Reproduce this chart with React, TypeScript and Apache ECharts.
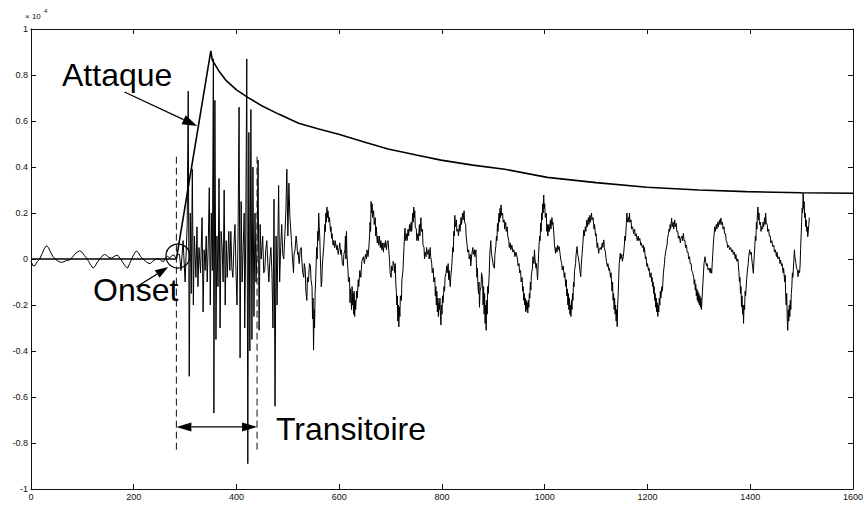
import React, { useEffect, useRef } from "react";
import * as echarts from "echarts";

// Axis ticks (signal amplitude is shown in units of 10^4)
const xTicks = [0, 200, 400, 600, 800, 1000, 1200, 1400, 1600];
const yTicks = [-1, -0.8, -0.6, -0.4, -0.2, 0, 0.2, 0.4, 0.6, 0.8, 1];

// Audio signal: [sample index, amplitude]
const signal: [number, number][] = [
  // before the onset
  [0, -0.01], [4, -0.03], [8, -0.028], [12, -0.012], [17, 0.0], [22, 0.025], [26, 0.045], [30, 0.058],
  [34, 0.05], [38, 0.03], [43, 0.01], [48, -0.002], [53, -0.01], [59, -0.015], [64, -0.012], [70, -0.006],
  [75, -0.004], [80, 0.006], [85, 0.02], [90, 0.03], [95, 0.036], [100, 0.028], [104, 0.015], [108, 0.005],
  [112, -0.01], [116, -0.025], [121, -0.04], [125, -0.03], [129, -0.014], [134, 0.0], [138, 0.012], [143, 0.02],
  [147, 0.016], [151, 0.008], [156, 0.003], [160, 0.008], [164, 0.014], [169, 0.016], [173, 0.004], [178, -0.012],
  [183, -0.03], [188, -0.04], [192, -0.02], [196, 0.0], [200, 0.02], [205, 0.035], [209, 0.028], [213, 0.012],
  [218, 0.0], [223, -0.01], [228, -0.018], [232, -0.02], [236, -0.012], [240, -0.005], [245, 0.002], [250, 0.0],
  [254, -0.008], [258, -0.012], [262, 0.006], [266, 0.012], [270, 0.004], [274, 0.014], [278, 0.018], [282, 0.004],
  [285, 0.02],
  // attack / transient
  [289, 0.02], [292, -0.05], [296, 0.08], [300, -0.1], [304, 0.15], [306, 0.73], [308, -0.51], [310, 0.2],
  [312, -0.15], [314, 0.39], [316, -0.2], [318, 0.1], [321, -0.08], [323, 0.14], [325, -0.12], [327, 0.05],
  [330, -0.06], [333, 0.18], [335, -0.23], [337, 0.04], [339, -0.05], [341, 0.1], [343, -0.1], [345, 0.06],
  [347, 0.31], [349, -0.2], [351, 0.2], [353, -0.05], [355, 0.87], [356, -0.67], [358, 0.69], [360, -0.35],
  [362, 0.1], [364, -0.12], [366, 0.35], [368, -0.3], [370, 0.12], [372, 0.05], [374, -0.1], [376, 0.3],
  [378, -0.2], [380, 0.08], [382, -0.08], [385, 0.12], [387, -0.05], [389, 0.12], [391, -0.04], [393, -0.08],
  [395, 0.06], [397, 0.15], [399, -0.05], [401, -0.2], [403, 0.1], [405, 0.66], [407, -0.43], [409, 0.25],
  [411, -0.1], [413, 0.05], [415, 0.2], [416, -0.3], [418, 0.1], [420, 0.87], [422, -0.89], [424, 0.55],
  [426, -0.4], [428, 0.65], [430, -0.35], [432, 0.4], [434, -0.25], [436, 0.2], [438, -0.1], [440, 0.05],
  [442, 0.43], [444, -0.31], [446, 0.15], [448, 0.0], [451, 0.1], [453, -0.06], [455, -0.05], [457, 0.04],
  [459, 0.08], [461, -0.02], [463, -0.1], [465, 0.0], [467, 0.05], [469, -0.06], [471, -0.3], [473, 0.26],
  [475, -0.64], [477, 0.1], [479, -0.2], [482, 0.32], [484, -0.1], [486, 0.05], [488, 0.15], [490, 0.02],
  [492, 0.0], [494, 0.1], [496, 0.2], [498, 0.39], [500, 0.1], [502, 0.33], [504, 0.18],
  // sustained part
  [507, 0.08], [509, 0.0], [511, -0.06], [512, 0.02], [514, 0.04], [516, 0.1], [517, 0.083], [519, 0.02],
  [520, 0.03], [522, -0.02], [524, 0.04], [526, 0.05], [527, 0.0], [529, -0.06], [531, -0.08], [532, -0.02],
  [534, -0.05], [535, -0.14], [537, -0.18], [538, -0.08], [540, -0.1], [542, -0.02], [544, -0.03], [545, -0.09],
  [547, -0.12], [548, -0.26], [549, -0.17], [550, -0.396], [551, -0.22], [552, -0.3], [553, -0.15], [554, -0.1],
  [556, 0.05], [557, 0.0], [558, 0.12], [559, 0.08], [560, 0.2], [561, 0.14], [562, 0.1], [563, 0.02],
  [564, -0.05], [565, -0.12], [566, -0.1], [567, -0.03], [568, 0.0], [570, 0.06], [571, 0.1], [572, 0.15],
  [573, 0.12], [574, 0.2], [575, 0.16], [576, 0.226], [577, 0.18], [578, 0.21], [580, 0.16], [581, 0.18],
  [583, 0.12], [584, 0.14], [585, 0.09], [586, 0.11], [588, 0.06], [589, 0.08], [591, 0.05], [592, 0.08],
  [595, 0.04], [596, 0.06], [598, 0.02], [600, 0.05], [601, 0.07], [603, 0.02], [604, 0.04], [606, -0.02],
  [608, -0.03], [609, 0.02], [611, 0.04], [612, 0.1], [613, 0.0], [614, 0.12], [615, 0.02], [617, -0.05],
  [618, -0.1], [620, -0.08], [621, -0.19], [622, -0.13], [624, -0.22], [625, -0.12], [626, -0.2], [627, -0.15],
  [628, -0.24], [629, -0.14], [630, -0.25], [631, -0.18], [632, -0.22], [634, -0.14], [635, -0.17], [637, -0.09],
  [638, -0.12], [640, -0.05], [642, -0.08], [644, -0.01], [647, 0.01], [649, -0.02], [651, 0.02], [653, 0.0],
  [654, 0.04], [656, 0.01], [657, 0.03], [659, 0.1], [660, 0.16], [661, 0.12], [662, 0.25], [663, 0.2],
  [664, 0.24], [665, 0.18], [667, 0.21], [668, 0.15], [670, 0.18], [671, 0.1], [672, 0.14], [674, 0.07],
  [675, 0.1], [677, 0.06], [678, 0.1], [680, 0.05], [681, 0.08], [683, 0.04], [684, 0.07], [686, 0.03],
  [687, 0.07], [689, 0.05], [690, 0.08], [692, 0.04], [693, 0.07], [695, 0.08], [697, 0.02], [698, -0.01],
  [699, -0.06], [701, -0.08], [702, -0.03], [704, -0.05], [705, -0.01], [707, -0.03], [708, -0.06], [709, -0.02],
  [710, -0.1], [711, -0.14], [712, -0.2], [713, -0.16], [714, -0.27], [715, -0.2], [716, -0.295], [717, -0.21],
  [718, -0.25], [719, -0.16], [721, -0.18], [722, -0.09], [724, -0.05], [725, 0.0], [726, 0.05], [727, 0.1],
  [728, 0.134], [729, 0.08], [731, 0.11], [732, 0.08], [734, 0.13], [735, 0.1], [737, 0.15], [738, 0.12],
  [740, 0.16], [741, 0.12], [743, 0.2], [744, 0.16], [745, 0.226], [746, 0.18], [747, 0.21], [748, 0.14],
  [750, 0.13], [751, 0.08], [753, 0.11], [754, 0.08], [756, 0.15], [757, 0.1], [759, 0.18], [760, 0.12],
  [762, 0.13], [763, 0.06], [765, 0.05], [766, 0.0], [767, 0.03], [769, 0.01], [770, 0.05], [772, 0.02],
  [774, 0.04], [775, 0.0], [777, 0.05], [778, 0.01], [780, -0.02], [781, -0.06], [783, -0.04], [784, -0.1],
  [786, -0.08], [787, -0.16], [788, -0.12], [789, -0.2], [790, -0.14], [791, -0.23], [792, -0.17], [793, -0.25],
  [794, -0.19], [795, -0.22], [796, -0.17], [797, -0.25], [798, -0.287], [799, -0.2], [800, -0.24], [801, -0.16],
  [802, -0.19], [804, -0.12], [805, -0.14], [806, -0.08], [808, -0.06], [809, -0.03], [810, -0.06], [812, -0.02],
  [813, -0.09], [814, -0.05], [816, -0.12], [817, -0.08], [819, -0.03], [821, 0.05], [822, 0.03], [823, 0.12],
  [824, 0.1], [825, 0.19], [826, 0.14], [828, 0.17], [829, 0.12], [831, 0.13], [832, 0.1], [834, 0.15],
  [835, 0.12], [837, 0.18], [838, 0.15], [840, 0.2], [841, 0.17], [843, 0.21], [844, 0.16], [846, 0.15],
  [847, 0.1], [849, 0.06], [850, 0.03], [852, 0.04], [853, 0.0], [855, 0.02], [856, -0.03], [858, 0.02],
  [860, 0.05], [861, 0.02], [863, 0.04], [864, 0.01], [866, 0.04], [867, -0.02], [868, -0.08], [869, -0.04],
  [870, -0.12], [871, -0.15], [872, -0.1], [873, -0.21], [874, -0.14], [876, -0.12], [877, -0.06], [879, -0.09],
  [880, -0.2], [881, -0.12], [882, -0.24], [883, -0.15], [884, -0.28], [885, -0.2], [886, -0.31], [887, -0.18],
  [888, -0.24], [889, -0.12], [890, -0.15], [892, -0.06], [893, 0.02], [895, 0.08], [896, 0.03], [898, 0.0],
  [900, -0.03], [902, -0.04], [903, 0.02], [905, 0.06], [906, 0.1], [907, 0.08], [908, 0.155], [909, 0.12],
  [911, 0.2], [912, 0.16], [913, 0.22], [914, 0.18], [915, 0.235], [916, 0.19], [918, 0.2], [919, 0.16],
  [921, 0.17], [922, 0.13], [924, 0.16], [925, 0.12], [927, 0.14], [928, 0.1], [930, 0.08], [931, 0.05],
  [933, 0.07], [934, 0.04], [936, 0.06], [938, 0.03], [940, 0.04], [942, 0.01], [944, 0.03], [947, 0.0],
  [948, -0.03], [950, -0.02], [951, -0.06], [953, -0.05], [954, -0.1], [956, -0.08], [957, -0.14], [958, -0.12],
  [959, -0.18], [960, -0.15], [961, -0.2], [962, -0.17], [963, -0.23], [964, -0.18], [965, -0.22], [966, -0.19],
  [967, -0.235], [968, -0.18], [969, -0.21], [970, -0.15], [971, -0.17], [972, -0.1], [973, -0.135], [974, -0.07],
  [976, -0.04], [977, 0.01], [979, -0.02], [980, 0.04], [981, 0.0], [983, -0.04], [984, -0.02], [986, -0.09],
  [987, -0.04], [988, 0.02], [989, 0.06], [990, 0.1], [991, 0.08], [992, 0.155], [993, 0.12], [994, 0.2],
  [995, 0.17], [996, 0.24], [997, 0.2], [998, 0.278], [999, 0.22], [1000, 0.24], [1001, 0.18], [1003, 0.2],
  [1004, 0.12], [1005, 0.15], [1006, 0.1], [1008, 0.15], [1009, 0.12], [1011, 0.17], [1012, 0.13], [1014, 0.18],
  [1015, 0.15], [1016, 0.16], [1018, 0.1], [1019, 0.06], [1021, 0.025], [1022, 0.05], [1024, 0.03], [1025, 0.06],
  [1027, 0.04], [1028, 0.054], [1030, 0.02], [1031, 0.0], [1033, -0.02], [1034, -0.048], [1036, -0.03], [1038, -0.08],
  [1039, -0.06], [1041, -0.12], [1042, -0.09], [1043, -0.16], [1044, -0.13], [1045, -0.2], [1046, -0.15], [1047, -0.22],
  [1048, -0.17], [1049, -0.24], [1050, -0.2], [1051, -0.25], [1052, -0.18], [1053, -0.22], [1054, -0.15], [1055, -0.18],
  [1056, -0.1], [1057, -0.12], [1058, -0.05], [1060, -0.02], [1061, 0.02], [1063, 0.054], [1064, 0.02], [1066, 0.0],
  [1068, -0.04], [1070, -0.077], [1071, -0.03], [1073, 0.03], [1074, 0.06], [1076, 0.126], [1077, 0.1], [1079, 0.14],
  [1080, 0.12], [1082, 0.17], [1083, 0.14], [1085, 0.18], [1086, 0.15], [1088, 0.19], [1089, 0.16], [1091, 0.2],
  [1092, 0.17], [1094, 0.18], [1096, 0.13], [1097, 0.15], [1099, 0.1], [1100, 0.11], [1102, 0.05], [1103, 0.07],
  [1105, 0.025], [1106, 0.04], [1108, 0.05], [1110, 0.04], [1112, 0.07], [1113, 0.05], [1115, 0.083], [1116, 0.05],
  [1118, 0.03], [1120, -0.01], [1122, -0.033], [1123, -0.02], [1125, -0.05], [1126, -0.04], [1128, -0.08], [1129, -0.06],
  [1131, -0.14], [1132, -0.1], [1133, -0.18], [1134, -0.15], [1135, -0.22], [1136, -0.17], [1137, -0.24], [1138, -0.2],
  [1139, -0.27], [1140, -0.22], [1141, -0.294], [1142, -0.2], [1143, -0.15], [1144, -0.08], [1145, -0.02], [1147, 0.025],
  [1148, 0.0], [1150, 0.02], [1151, -0.01], [1153, 0.01], [1155, 0.06], [1156, 0.1], [1157, 0.08], [1159, 0.16],
  [1160, 0.2], [1161, 0.16], [1163, 0.18], [1164, 0.16], [1165, 0.2], [1166, 0.16], [1168, 0.17], [1169, 0.13],
  [1171, 0.14], [1173, 0.11], [1175, 0.13], [1176, 0.1], [1178, 0.11], [1180, 0.08], [1182, 0.1], [1183, 0.08],
  [1185, 0.09], [1187, 0.06], [1188, 0.07], [1190, 0.05], [1192, 0.06], [1193, 0.03], [1194, 0.05], [1196, 0.0],
  [1197, 0.01], [1199, -0.033], [1200, -0.02], [1202, -0.05], [1203, -0.04], [1205, -0.08], [1207, -0.06], [1208, -0.1],
  [1209, -0.08], [1210, -0.12], [1211, -0.1], [1212, -0.15], [1213, -0.12], [1214, -0.18], [1215, -0.15], [1216, -0.21],
  [1217, -0.17], [1218, -0.23], [1219, -0.19], [1220, -0.25], [1221, -0.2], [1222, -0.23], [1223, -0.17], [1224, -0.2],
  [1225, -0.14], [1226, -0.17], [1228, -0.12], [1229, -0.14], [1231, -0.06], [1233, -0.02], [1234, 0.01], [1236, 0.04],
  [1238, 0.06], [1239, 0.09], [1241, 0.112], [1242, 0.13], [1243, 0.12], [1244, 0.15], [1245, 0.13], [1247, 0.178],
  [1248, 0.14], [1250, 0.16], [1251, 0.13], [1253, 0.17], [1254, 0.14], [1256, 0.155], [1257, 0.12], [1259, 0.12],
  [1260, 0.09], [1262, 0.1], [1264, 0.07], [1265, 0.09], [1267, 0.1], [1268, 0.08], [1270, 0.112], [1271, 0.08],
  [1273, 0.08], [1274, 0.05], [1276, 0.06], [1277, 0.03], [1279, 0.03], [1280, 0.0], [1282, 0.01], [1283, -0.02],
  [1285, -0.02], [1286, -0.05], [1288, -0.06], [1290, -0.08], [1291, -0.11], [1292, -0.09], [1293, -0.135], [1294, -0.11],
  [1295, -0.16], [1296, -0.13], [1297, -0.18], [1298, -0.14], [1299, -0.19], [1300, -0.15], [1301, -0.2], [1302, -0.16],
  [1303, -0.21], [1304, -0.17], [1305, -0.22], [1306, -0.18], [1307, -0.14], [1308, -0.1], [1309, -0.06], [1310, -0.02],
  [1312, 0.01], [1313, -0.01], [1315, -0.03], [1316, -0.02], [1318, -0.048], [1320, -0.04], [1322, -0.06], [1323, -0.04],
  [1325, -0.062], [1326, -0.02], [1327, 0.02], [1328, 0.06], [1329, 0.09], [1331, 0.14], [1332, 0.12], [1334, 0.15],
  [1335, 0.13], [1337, 0.16], [1338, 0.14], [1340, 0.17], [1341, 0.15], [1343, 0.178], [1344, 0.15], [1346, 0.16],
  [1347, 0.13], [1349, 0.14], [1350, 0.11], [1352, 0.11], [1353, 0.08], [1355, 0.07], [1356, 0.05], [1358, 0.06],
  [1360, 0.04], [1362, 0.05], [1364, 0.03], [1366, 0.04], [1367, 0.02], [1369, 0.03], [1371, 0.0], [1372, 0.02],
  [1374, -0.01], [1376, 0.0], [1377, -0.03], [1378, -0.06], [1379, -0.1], [1380, -0.08], [1381, -0.15], [1382, -0.12],
  [1383, -0.207], [1384, -0.16], [1385, -0.24], [1386, -0.2], [1387, -0.28], [1388, -0.2], [1389, -0.22], [1390, -0.14],
  [1391, -0.16], [1393, -0.09], [1394, -0.06], [1396, -0.02], [1397, 0.01], [1399, 0.04], [1400, 0.02], [1402, 0.03],
  [1403, 0.0], [1405, -0.04], [1406, -0.062], [1407, -0.02], [1408, 0.02], [1409, 0.06], [1410, 0.1], [1411, 0.08],
  [1412, 0.16], [1413, 0.13], [1414, 0.2], [1415, 0.226], [1416, 0.17], [1417, 0.2], [1418, 0.15], [1420, 0.16],
  [1421, 0.12], [1422, 0.14], [1424, 0.13], [1425, 0.16], [1426, 0.14], [1428, 0.18], [1429, 0.15], [1430, 0.2],
  [1431, 0.16], [1433, 0.15], [1434, 0.12], [1436, 0.13], [1437, 0.1], [1439, 0.1], [1440, 0.07], [1442, 0.08],
  [1444, 0.054], [1446, 0.06], [1447, 0.03], [1449, 0.04], [1451, 0.01], [1452, 0.03], [1454, 0.0], [1456, 0.01],
  [1458, -0.02], [1459, -0.005], [1461, -0.03], [1462, -0.02], [1464, -0.06], [1465, -0.04], [1467, -0.1], [1468, -0.07],
  [1469, -0.16], [1470, -0.2], [1471, -0.15], [1472, -0.26], [1473, -0.31], [1474, -0.22], [1475, -0.27], [1476, -0.2],
  [1477, -0.25], [1478, -0.18], [1479, -0.22], [1480, -0.15], [1481, -0.12], [1482, -0.06], [1483, -0.08], [1485, 0.0],
  [1486, 0.04], [1487, 0.01], [1489, -0.02], [1490, -0.04], [1492, -0.05], [1493, -0.077], [1494, -0.05], [1496, -0.06],
  [1497, -0.03], [1498, 0.04], [1499, 0.1], [1500, 0.16], [1501, 0.22], [1502, 0.2], [1503, 0.287], [1504, 0.22],
  [1505, 0.25], [1506, 0.18], [1507, 0.2], [1508, 0.14], [1509, 0.17], [1510, 0.12], [1511, 0.14], [1512, 0.097],
  [1513, 0.12], [1514, 0.15], [1515, 0.18],
];

// Amplitude envelope: flat before the onset, linear attack, then decay
const envelope: [number, number][] = [
  [0, 0], [283, 0], [350, 0.905], [353, 0.865], [365, 0.82], [379, 0.778], [400, 0.735], [422, 0.703],
  [450, 0.665], [482, 0.63], [521, 0.59], [560, 0.565], [599, 0.542], [650, 0.508], [695, 0.478], [750, 0.452],
  [798, 0.43], [860, 0.408], [922, 0.39], [1005, 0.355], [1100, 0.332], [1199, 0.312], [1300, 0.3], [1393, 0.293],
  [1500, 0.288], [1600, 0.286],
];

// Segment boundaries (samples) and annotation anchors (data units)
const onsetSample = 283;
const transientEnd = 440;
const boundaryTop = 0.445;
const boundaryBottom = -0.843;
const onsetCircle: [number, number] = [286, 0.013];
const attackArrow: [[number, number], [number, number]] = [[182, 0.726], [323.5, 0.578]];
const onsetArrow: [[number, number], [number, number]] = [[205, -0.122], [267, -0.035]];
const transientArrowY = -0.73;

const FONT = "'Liberation Sans', Arial, Helvetica, sans-serif";
const INK = "#111";

function fmtY(v: number): string {
  const r = Math.round(v * 10) / 10;
  const found = yTicks.find((t) => Math.abs(t - r) < 1e-9);
  return String(found === undefined ? r : found);
}

function fmtX(v: number): string {
  const found = xTicks.find((t) => Math.abs(t - v) < 1e-6);
  return String(found === undefined ? Math.round(v) : found);
}

export default function App() {
  const ref = useRef<HTMLDivElement>(null);

  useEffect(() => {
    if (!ref.current) return;
    document.body.style.margin = "0";
    const chart = echarts.init(ref.current, undefined, { renderer: "svg" });

    const axisCommon = {
      type: "value" as const,
      axisLine: { show: true, onZero: false, lineStyle: { color: INK, width: 1 } },
      axisTick: { show: true, inside: true, length: 5, lineStyle: { color: INK, width: 1 } },
      splitLine: { show: false },
    };

    chart.setOption({
      animation: false,
      backgroundColor: "#fff",
      grid: { left: 31, right: 9, top: 29, bottom: 16, containLabel: false },
      xAxis: [
        {
          ...axisCommon,
          position: "bottom",
          min: xTicks[0],
          max: xTicks[xTicks.length - 1],
          interval: xTicks[1] - xTicks[0],
          axisLabel: { show: true, fontSize: 9, color: INK, fontFamily: FONT, margin: 3, formatter: fmtX },
        },
        {
          ...axisCommon,
          position: "top",
          min: xTicks[0],
          max: xTicks[xTicks.length - 1],
          interval: xTicks[1] - xTicks[0],
          axisLabel: { show: false },
        },
      ],
      yAxis: [
        {
          ...axisCommon,
          position: "left",
          min: yTicks[0],
          max: yTicks[yTicks.length - 1],
          interval: 0.2,
          axisLabel: { show: true, fontSize: 9, color: INK, fontFamily: FONT, margin: 3, formatter: fmtY },
        },
        {
          ...axisCommon,
          position: "right",
          min: yTicks[0],
          max: yTicks[yTicks.length - 1],
          interval: 0.2,
          axisLabel: { show: false },
        },
      ],
      series: [
        {
          type: "line",
          name: "signal",
          data: signal,
          xAxisIndex: 0,
          yAxisIndex: 0,
          showSymbol: false,
          symbol: "none",
          lineStyle: { color: "#000", width: 1 },
          silent: true,
        },
        {
          type: "line",
          name: "envelope",
          data: envelope,
          xAxisIndex: 0,
          yAxisIndex: 0,
          showSymbol: false,
          symbol: "none",
          lineStyle: { color: "#000", width: 1.6 },
          silent: true,
          z: 3,
        },
      ],
    });

    const P = (p: [number, number]) =>
      chart.convertToPixel({ xAxisIndex: 0, yAxisIndex: 0 }, p) as number[];

    const arrowHead = (tail: number[], tip: number[], len: number, half: number) => {
      const dx = tip[0] - tail[0];
      const dy = tip[1] - tail[1];
      const d = Math.hypot(dx, dy) || 1;
      const ux = dx / d;
      const uy = dy / d;
      const bx = tip[0] - ux * len;
      const by = tip[1] - uy * len;
      return {
        base: [bx, by],
        points: [
          [tip[0], tip[1]],
          [bx - uy * half, by + ux * half],
          [bx + uy * half, by - ux * half],
        ],
      };
    };

    const elements: any[] = [];

    // dashed boundaries of the transient segment
    [onsetSample, transientEnd].forEach((s) => {
      const a = P([s, boundaryTop]);
      const b = P([s, boundaryBottom]);
      elements.push({
        type: "line",
        shape: { x1: a[0], y1: a[1], x2: b[0], y2: b[1] },
        style: { stroke: INK, lineWidth: 1, lineDash: [7, 4] },
        z: 10,
      });
    });

    // arrows with filled heads
    const addArrow = (t: [number, number], h: [number, number], len: number, half: number) => {
      const tail = P(t);
      const tip = P(h);
      const head = arrowHead(tail, tip, len, half);
      elements.push({
        type: "line",
        shape: { x1: tail[0], y1: tail[1], x2: head.base[0], y2: head.base[1] },
        style: { stroke: "#000", lineWidth: 1.3 },
        z: 11,
      });
      elements.push({
        type: "polygon",
        shape: { points: head.points },
        style: { fill: "#000" },
        z: 11,
      });
    };
    addArrow(attackArrow[0], attackArrow[1], 15, 5);
    addArrow(onsetArrow[0], onsetArrow[1], 13, 4.5);

    // double-headed arrow spanning the transient
    {
      const l = P([onsetSample, transientArrowY]);
      const r = P([transientEnd, transientArrowY]);
      const hl = arrowHead(r, l, 15, 4.5);
      const hr = arrowHead(l, r, 15, 4.5);
      elements.push({
        type: "line",
        shape: { x1: hl.base[0], y1: hl.base[1], x2: hr.base[0], y2: hr.base[1] },
        style: { stroke: "#000", lineWidth: 1.3 },
        z: 11,
      });
      elements.push({ type: "polygon", shape: { points: hl.points }, style: { fill: "#000" }, z: 11 });
      elements.push({ type: "polygon", shape: { points: hr.points }, style: { fill: "#000" }, z: 11 });
    }

    // onset marker circle
    {
      const c = P(onsetCircle);
      elements.push({
        type: "circle",
        shape: { cx: c[0], cy: c[1], r: 12 },
        style: { fill: "none", stroke: "#000", lineWidth: 1.2 },
        z: 11,
      });
    }

    // annotation labels
    const label = (text: string, x: number, y: number) => ({
      type: "text",
      x,
      y,
      style: {
        text,
        fill: "#000",
        font: `32px ${FONT}`,
        textAlign: "left",
        textVerticalAlign: "middle",
        verticalAlign: "middle",
      },
      z: 12,
    });
    elements.push(label("Attaque", 62, 75));
    elements.push(label("Onset", 93, 290));
    elements.push(label("Transitoire", 276, 429));

    // exponent of the y axis
    elements.push({
      type: "text",
      x: 25,
      y: 12,
      style: { text: "× 10", fill: INK, font: `8px ${FONT}` },
      z: 12,
    });
    elements.push({
      type: "text",
      x: 44,
      y: 8,
      style: { text: "4", fill: INK, font: `6px ${FONT}` },
      z: 12,
    });

    chart.setOption({ graphic: { elements } });

    return () => {
      chart.dispose();
    };
  }, []);

  return (
    <div
      ref={ref}
      style={{ position: "fixed", left: 0, top: 0, width: 866, height: 505, background: "#fff" }}
    />
  );
}
